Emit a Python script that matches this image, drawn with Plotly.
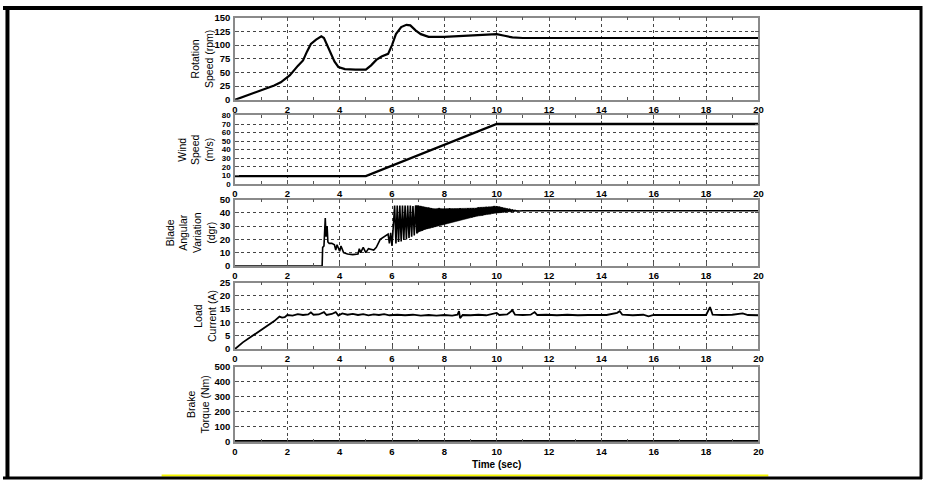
import plotly.graph_objects as go

W, H = 927, 484

# ---------------- data ----------------
rot_t = [0, 0.5, 1.0, 1.5, 1.75, 2.1, 2.4, 2.6, 2.75, 2.9, 3.1, 3.3, 3.4, 3.6, 3.8, 3.95, 4.2, 4.6,
         5.0, 5.2, 5.4, 5.6, 5.85, 6.0, 6.15, 6.35, 6.55, 6.7, 6.9, 7.1, 7.4, 8.0, 8.5, 9.0, 9.5,
         10.0, 10.3, 10.6, 11.0, 12, 14, 16, 18, 20]
rot_v = [0, 9, 17, 26, 32, 45, 62, 72, 88, 102, 110, 116, 113, 90, 70, 60, 56, 55,
         55, 63, 73, 79, 84, 100, 120, 133, 137, 136, 127, 120, 115, 115, 116, 117, 119,
         120, 117, 114, 113, 113, 113, 113, 113, 113]

wind_t = [0, 5, 10, 20]
wind_v = [9, 9, 70, 70]

blade_t = [0, 3.33, 3.35, 3.40, 3.45, 3.48, 3.52, 3.55, 3.6, 3.7, 3.8, 3.85, 3.9, 4.0, 4.05,
           4.15, 4.3, 4.5, 4.7, 4.75, 4.8, 4.9, 5.0, 5.1, 5.3, 5.4, 5.55, 5.75, 5.85, 5.9,
           5.95, 6.0, 6.05]
blade_v = [0, 0, 14, 15, 36, 22, 30, 18, 17, 17, 16, 12, 16, 11, 15,
           10, 9, 8.5, 9, 13, 10, 14, 10, 13, 12, 14, 20, 23, 24, 17,
           25, 15, 30]
osc_t_hi = [6.10, 6.20, 6.30, 6.40, 6.50, 6.60, 6.70, 6.80, 6.90, 7.00, 7.10, 7.20, 7.30,
            7.40, 7.50, 7.60, 7.70, 7.80, 7.90, 8.00, 8.10, 8.20, 8.30, 8.40, 8.50, 8.60,
            8.70, 8.80, 8.90, 9.00, 9.10, 9.20, 9.30, 9.40, 9.50, 9.60, 9.70, 9.80, 9.90,
            10.00, 10.10, 10.20, 10.30, 10.40, 10.50, 10.60, 10.70, 10.80]
osc_t_lo = [6.15, 6.25, 6.35, 6.45, 6.55, 6.65, 6.75, 6.85, 6.95, 7.05, 7.15, 7.25, 7.35,
            7.45, 7.55, 7.65, 7.75, 7.85, 7.95, 8.05, 8.15, 8.25, 8.35, 8.45, 8.55, 8.65,
            8.75, 8.85, 8.95, 9.05, 9.15, 9.25, 9.35, 9.45, 9.55, 9.65, 9.75, 9.85, 9.95,
            10.05, 10.15, 10.25, 10.35, 10.45, 10.55, 10.65, 10.75, 10.85]
osc_hi = [45.5, 45.5, 45.5, 45.5, 45.5, 45.5, 45.5, 45.0, 45.5, 45.5, 45.0, 44.5, 44.0,
          44.0, 43.5, 43.0, 43.0, 43.5, 43.0, 43.0, 43.0, 43.5, 43.0, 43.0, 43.0, 43.5,
          43.0, 43.0, 43.5, 43.5, 43.5, 43.5, 44.0, 44.0, 44.0, 44.5, 44.5, 44.5, 45.0,
          45.0, 44.5, 44.0, 43.5, 43.0, 42.5, 42.0, 41.8, 41.6]
osc_lo = [17, 18, 18.5, 19.5, 20, 21, 22, 23, 24.5, 26, 26.5, 27.5, 28,
          28.5, 29, 29.5, 30.5, 31, 31.5, 32, 32.5, 33, 33.5, 34, 34.5, 35,
          35.5, 36, 36.5, 36.5, 37, 37.5, 38, 38, 38.5, 39, 39, 39.5, 40,
          40, 40.5, 40.5, 41, 41, 41, 41.2, 41.3, 41.4]
blade_tail_t = [11.0, 20]
blade_tail_v = [41.5, 41.5]

load_t = [0, 0.3, 0.6, 0.9, 1.2, 1.5, 1.7, 1.8, 1.9, 2.0, 2.2, 2.4, 2.6, 2.8, 2.9, 3.0, 3.2,
          3.4, 3.5, 3.7, 3.85, 3.95, 4.1, 4.3, 4.5, 4.7, 4.9, 5.1, 5.3, 5.5, 5.7, 5.9, 6.2,
          6.5, 6.8, 7.1, 7.4, 7.7, 8.0, 8.3, 8.5, 8.56, 8.6, 8.7, 9.0, 9.3, 9.6, 10.0, 10.1,
          10.4, 10.6, 10.7, 11.0, 11.3, 11.45, 11.55, 11.9, 12.3, 12.7, 13.1, 13.5, 13.9,
          14.2, 14.6, 14.7, 14.8, 15.2, 15.6, 15.8, 16.0, 16.4, 16.8, 17.2, 17.6, 18.0,
          18.15, 18.25, 18.6, 19.0, 19.4, 19.6, 20]
load_v = [0, 2.5, 4.5, 6.5, 8.5, 10.5, 12.2, 11.8, 12.0, 12.8, 12.6, 13.1, 12.8, 13.0, 13.8, 12.9, 13.0,
          13.9, 12.8, 13.2, 13.9, 12.6, 13.4, 12.9, 13.2, 12.8, 13.1, 12.7, 13.0, 12.8, 13.1, 12.7, 12.9,
          12.7, 12.9, 12.6, 12.8, 12.6, 12.8, 12.6, 12.9, 14.3, 11.6, 12.8, 12.7, 12.9, 12.7, 13.6, 12.8,
          13.0, 14.6, 12.9, 12.8, 12.9, 13.9, 12.8, 12.9, 12.7, 12.9, 12.7, 12.8, 12.9,
          12.8, 13.6, 14.2, 12.9, 12.7, 12.9, 12.3, 12.8, 12.8, 12.7, 12.8, 12.7, 12.8,
          15.8, 12.9, 12.8, 12.9, 13.4, 12.8, 12.7]

brake_t = [0, 20]
brake_v = [0, 0]

y_titles = ["Rotation<br>Speed (rpm)", "Wind<br>Speed<br>(m/s)", "Blade<br>Angular<br>Variation<br>(dgr)",
            "Load<br>Current (A)", "Brake<br>Torque (Nm)"]
y_ranges = [[0, 150], [0, 80], [0, 50], [0, 25], [0, 500]]
y_dticks = [25, 10, 10, 5, 100]
x_ticks = [0, 2, 4, 6, 8, 10, 12, 14, 16, 18, 20]

# ---------------- layout geometry (pixels) ----------------
px_left, px_right = 234, 762
panels_px = [(12, 96), (112, 182), (198, 266), (283, 351), (369, 446)]
title_x_px = [201, 194, 189, 204, 197]
ytick_sizes = [9.5, 8, 9.5, 9.5, 9.5]

# interleave oscillation band
osc_x, osc_y = [], []
for th, tl, vh, vl in zip(osc_t_hi, osc_t_lo, osc_hi, osc_lo):
    osc_x += [th, tl]
    osc_y += [vh, vl]

fig = go.Figure()
k0 = 8
band_x = osc_t_hi[k0:] + osc_t_lo[k0:][::-1]
band_y = osc_hi[k0:] + osc_lo[k0:][::-1]
fig.add_trace(go.Scatter(x=band_x, y=band_y, mode="lines", fill="toself", fillcolor="black",
                         line=dict(color="black", width=0.5), xaxis="x3", yaxis="y3",
                         showlegend=False, hoverinfo="skip"))

series = [
    (rot_t, rot_v, 2.2),
    (wind_t, wind_v, 2.4),
    (blade_t + osc_x + blade_tail_t, blade_v + osc_y + blade_tail_v, 1.6),
    (load_t, load_v, 1.8),
    (brake_t, brake_v, 3.5),
]
for i, (xs, ys, w) in enumerate(series):
    sfx = "" if i == 0 else str(i + 1)
    fig.add_trace(go.Scatter(x=xs, y=ys, mode="lines", line=dict(color="black", width=w),
                             xaxis="x" + sfx, yaxis="y" + sfx, showlegend=False,
                             cliponaxis=False if i == 4 else True))

def tickfont(size):
    return dict(family="Liberation Sans, Arial, sans-serif", size=size, color="black", weight="bold")

axcommon = dict(showline=True, linecolor="#8a8a8a", linewidth=1.5, mirror="ticks",
                ticks="inside", ticklen=4, tickcolor="#555", showgrid=True,
                gridcolor="#444", griddash="dot", gridwidth=1, zeroline=False,
                fixedrange=True)

layout = dict(width=W, height=H, margin=dict(l=0, r=0, t=0, b=0),
              paper_bgcolor="white", plot_bgcolor="white", showlegend=False)
xd = [px_left / W, px_right / W]
annotations = []
for i in range(5):
    top, bot = panels_px[i]
    sfx = "" if i == 0 else str(i + 1)
    layout["xaxis" + sfx] = dict(axcommon, domain=xd, anchor="y" + sfx, range=[0, 20],
                                 tickvals=x_ticks, ticktext=[str(v) for v in x_ticks],
                                 ticklabelstandoff=0, tickfont=tickfont(9.5),
                                 minor=dict(dtick=1, tick0=0, ticks="inside", ticklen=3,
                                            tickcolor="#555", showgrid=False))
    layout["yaxis" + sfx] = dict(axcommon, domain=[1 - bot / H, 1 - top / H], anchor="x" + sfx,
                                 range=y_ranges[i], dtick=y_dticks[i], tick0=0,
                                 ticklabelstandoff=1, tickfont=tickfont(ytick_sizes[i]))
    annotations.append(dict(text=y_titles[i], xref="paper", yref="paper",
                            x=title_x_px[i] / W, y=1 - (top + bot) / 2 / H,
                            xanchor="center", yanchor="middle", textangle=-90, showarrow=False,
                            font=dict(family="Liberation Sans, Arial, sans-serif", size=10.5,
                                      color="black")))
annotations.append(dict(text="Time (sec)", xref="paper", yref="paper", x=498 / W, y=1 - 469 / H,
                        xanchor="center", yanchor="middle", showarrow=False,
                        font=dict(family="Liberation Sans, Arial, sans-serif", size=10,
                                  color="black", weight="bold")))
layout["annotations"] = annotations

shapes = [
    dict(type="line", xref="paper", yref="paper", x0=160 / W, x1=772 / W, y0=1 - 480.5 / H,
         y1=1 - 480.5 / H, line=dict(color="#f5f500", width=2)),
    dict(type="line", xref="paper", yref="paper", x0=0, x1=1, y0=1 - 2 / H, y1=1 - 2 / H,
         line=dict(color="black", width=4)),
    dict(type="line", xref="paper", yref="paper", x0=0, x1=1, y0=1 - 483 / H, y1=1 - 483 / H,
         line=dict(color="black", width=3)),
    dict(type="line", xref="paper", yref="paper", x0=4.5 / W, x1=4.5 / W, y0=0, y1=1,
         line=dict(color="black", width=4)),
    dict(type="line", xref="paper", yref="paper", x0=926 / W, x1=926 / W, y0=0, y1=1,
         line=dict(color="black", width=3)),
]
layout["shapes"] = shapes
fig.update_layout(**layout)
fig.write_html("out.html")
